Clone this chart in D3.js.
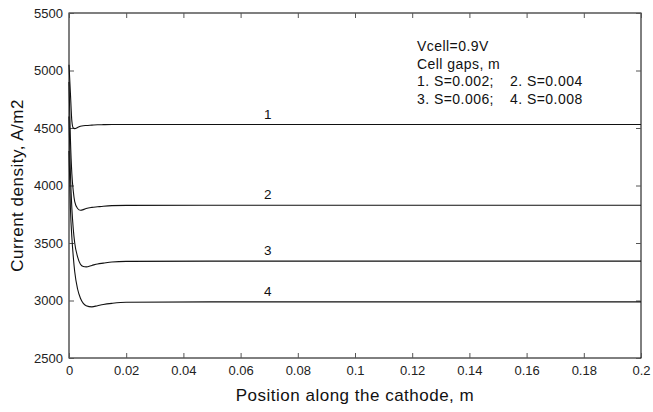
<!DOCTYPE html>
<html><head><meta charset="utf-8">
<script src="https://cdn.jsdelivr.net/npm/d3@7"></script>
<style>body{margin:0;background:#fff;} svg{display:block;font-family:"Liberation Sans",Arial,sans-serif;}</style>
</head><body>
<svg id="c" width="653" height="412"></svg>
<script>
const xs = [0, 0.0005, 0.001, 0.0015, 0.002, 0.003, 0.004, 0.005, 0.006, 0.008, 0.01, 0.012, 0.015, 0.02, 0.05, 0.1, 0.15, 0.2];
const s1 = [5050, 4800, 4560, 4500, 4495, 4505, 4515, 4520, 4522, 4525, 4528, 4529, 4530, 4530, 4530, 4530, 4530, 4530];
const s2 = [4900, 4400, 4100, 3950, 3860, 3800, 3785, 3790, 3800, 3810, 3815, 3820, 3825, 3827, 3828, 3828, 3828, 3828];
const s3 = [4600, 4100, 3800, 3620, 3500, 3380, 3315, 3295, 3292, 3305, 3318, 3325, 3335, 3340, 3342, 3342, 3342, 3342];
const s4 = [4300, 3800, 3550, 3380, 3250, 3100, 3020, 2975, 2955, 2945, 2955, 2965, 2975, 2985, 2988, 2988, 2988, 2988];
const seriesLabels = ["1", "2", "3", "4"];
const labelX = 0.0695;
const xTicks = [0, 0.02, 0.04, 0.06, 0.08, 0.1, 0.12, 0.14, 0.16, 0.18, 0.2];
const yTicks = [2500, 3000, 3500, 4000, 4500, 5000, 5500];
const notes = [["Vcell=0.9V"], ["Cell gaps, m"], ["1. S=0.002;", "2. S=0.004"], ["3. S=0.006;", "4. S=0.008"]];

const svg = d3.select("#c");
const L = 69, R = 641, T = 13, B = 358;
const x = d3.scaleLinear().domain([0, 0.2]).range([L, R]);
const y = d3.scaleLinear().domain([2500, 5500]).range([B, T]);
const tl = 5;

svg.append("rect").attr("x", L).attr("y", T).attr("width", R - L).attr("height", B - T)
  .attr("fill", "none").attr("stroke", "#000").attr("stroke-width", 1);

const fmt = d => d3.format("~g")(d);
const gx = svg.append("g").attr("transform", `translate(0,${B})`)
  .call(d3.axisBottom(x).tickValues(xTicks).tickSizeInner(-tl).tickSizeOuter(0).tickPadding(8).tickFormat(fmt));
const gxt = svg.append("g").attr("transform", `translate(0,${T})`)
  .call(d3.axisTop(x).tickValues(xTicks).tickSizeInner(-tl).tickSizeOuter(0).tickFormat(""));
const gy = svg.append("g").attr("transform", `translate(${L},0)`)
  .call(d3.axisLeft(y).tickValues(yTicks).tickSizeInner(-tl).tickSizeOuter(0).tickPadding(6).tickFormat(d3.format("d")));
const gyr = svg.append("g").attr("transform", `translate(${R},0)`)
  .call(d3.axisRight(y).tickValues(yTicks).tickSizeInner(-tl).tickSizeOuter(0).tickFormat(""));
[gx, gxt, gy, gyr].forEach(g => {
  g.select(".domain").remove();
  g.selectAll("line").attr("stroke", "#555");
  g.selectAll("text").attr("font-size", 13).attr("fill", "#222");
});

const line = d3.line().x((d, i) => x(xs[i])).y(d => y(d)).curve(d3.curveMonotoneX);
const all = [s1, s2, s3, s4];
all.forEach((s, k) => {
  svg.append("path").attr("d", line(s)).attr("fill", "none").attr("stroke", "#111").attr("stroke-width", 1.1);
  svg.append("text").attr("x", x(labelX)).attr("y", y(s[s.length - 1]) - 6)
    .attr("text-anchor", "middle").attr("font-size", 13.5).attr("fill", "#111").text(seriesLabels[k]);
});

notes.forEach((parts, i) => {
  const t = svg.append("text").attr("y", 51 + i * 17.5).attr("font-size", 14)
    .attr("letter-spacing", 0.45).attr("fill", "#111");
  parts.forEach((p, j) => t.append("tspan").attr("x", j === 0 ? 417 : 510).text(p));
});

svg.append("text").attr("x", (L + R) / 2).attr("y", 401).attr("text-anchor", "middle")
  .attr("font-size", 17).attr("letter-spacing", 0.5).attr("fill", "#111").text("Position along the cathode, m");
svg.append("text").attr("transform", `translate(23,${(T + B) / 2}) rotate(-90)`).attr("text-anchor", "middle")
  .attr("font-size", 17).attr("letter-spacing", 0.5).attr("fill", "#111").text("Current density, A/m2");
</script>
</body></html>
